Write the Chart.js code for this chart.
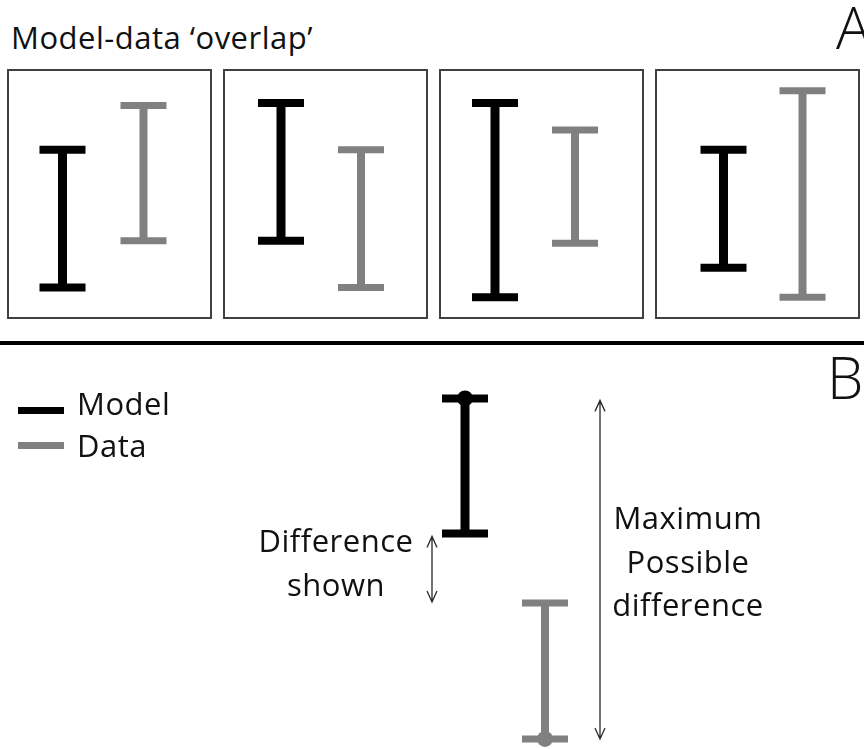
<!DOCTYPE html>
<html>
<head>
<meta charset="utf-8">
<script src="https://cdn.jsdelivr.net/npm/chart.js@4"></script>
<style>
  body { margin: 0; width: 864px; height: 749px; background: #fff; overflow: hidden; position: relative;
         font-family: "Open Sans", Lato, sans-serif; color: #111; }
  .t { position: absolute; white-space: nowrap; line-height: 1; font-size: 31px; letter-spacing: 0.5px; }
  .big { font-size: 58px; font-weight: 300; letter-spacing: 0; }
  .box { position: absolute; top: 69px; width: 205px; height: 250px; border: 2px solid #404040; box-sizing: border-box; }
  .box canvas, #b { display: block; }
  #rule { position: absolute; left: 0; top: 341px; width: 864px; height: 4px; background: #000; }
  .sw { position: absolute; left: 18px; width: 46px; height: 7px; }
  .note { position: absolute; width: 220px; text-align: center; font-size: 31px; letter-spacing: 0.5px; }
</style>
</head>
<body>

<div class="t" style="left:11px; top:22px;">Model-data ‘overlap’</div>
<div class="t big" style="left:836px; top:-2px;">A</div>

<div class="box" style="left:7px;"><canvas id="a1" width="201" height="246"></canvas></div>
<div class="box" style="left:223px;"><canvas id="a2" width="201" height="246"></canvas></div>
<div class="box" style="left:439px;"><canvas id="a3" width="201" height="246"></canvas></div>
<div class="box" style="left:655px;"><canvas id="a4" width="201" height="246"></canvas></div>

<div id="rule"></div>

<canvas id="b" width="864" height="403" style="position:absolute; left:0; top:346px;"></canvas>

<div class="t big" style="left:827px; top:348px;">B</div>
<div class="sw" style="top:407px; background:#000;"></div>
<div class="t" style="left:77px; top:388px;">Model</div>
<div class="sw" style="top:442px; background:#808080;"></div>
<div class="t" style="left:77px; top:430px;">Data</div>

<div class="note" style="left:226px; top:518px; line-height:44px;">Difference<br>shown</div>
<div class="note" style="left:578px; top:496px; line-height:43.5px;">Maximum<br>Possible<br>difference</div>

<script>
// Panel A: four model/data comparisons (arbitrary units, 0-10 inside each box)
const panels = ['a1', 'a2', 'a3', 'a4'];
const series = ['Model', 'Data'];
const modelLow  = [1.2, 3.1, 0.8, 2.0];
const modelHigh = [6.8, 8.7, 8.7, 6.8];
const dataLow   = [3.1, 1.2, 3.0, 0.8];
const dataHigh  = [8.6, 6.8, 7.6, 9.2];

// Panel B: the worked example (arbitrary units, 0-20)
const bModel = [10.7, 17.4];   // low, high
const bData  = [0.5, 7.25];    // low, high

const modelColor = '#000000';
const dataColor = '#808080';

// left/right padding per box so the two bars sit where they do in the figure
const slotPad = [[13, 26], [16, 25], [14, 27], [27, 16]];

function errorBar(label, lo, hi, color, width, capWidth) {
    return {
        label: label,
        data: [{x: label, y: lo}, {x: label, y: hi}],
        borderColor: color,
        borderWidth: width,
        borderCapStyle: 'butt',
        pointStyle: 'line',
        pointRadius: 23,
        pointBorderWidth: capWidth,
        pointBorderColor: color,
        clip: false
    };
}

function opts(ymax, pad) {
    return {
        responsive: false,
        animation: false,
        events: [],
        layout: { autoPadding: false, padding: { left: pad[0], right: pad[1], top: 0, bottom: 0 } },
        scales: {
            x: { type: 'category', offset: true, display: false },
            y: { min: 0, max: ymax, display: false }
        },
        plugins: { legend: { display: false }, tooltip: { enabled: false } }
    };
}

panels.forEach((id, i) => {
    new Chart(document.getElementById(id), {
        type: 'line',
        data: {
            labels: series,
            datasets: [
                errorBar('Model', modelLow[i], modelHigh[i], modelColor, 9, 8),
                errorBar('Data', dataLow[i], dataHigh[i], dataColor, 8, 7)
            ]
        },
        options: opts(10, slotPad[i])
    });
});

// thin double-headed arrows in panel B
function drawArrow(ctx, x, y1, y2) {
    ctx.save();
    ctx.strokeStyle = '#2a2a2a';
    ctx.lineWidth = 1.3;
    ctx.beginPath();
    ctx.moveTo(x, y1);
    ctx.lineTo(x, y2);
    ctx.moveTo(x - 5, y1 + 11);
    ctx.lineTo(x, y1);
    ctx.lineTo(x + 5, y1 + 11);
    ctx.moveTo(x - 5, y2 - 11);
    ctx.lineTo(x, y2);
    ctx.lineTo(x + 5, y2 - 11);
    ctx.stroke();
    ctx.restore();
}

const arrows = {
    id: 'arrows',
    afterDatasetsDraw(chart) {
        const x = chart.scales.x, y = chart.scales.y;
        const xm = x.getPixelForValue(0), xd = x.getPixelForValue(1);
        drawArrow(chart.ctx, xm - 33, y.getPixelForValue(bModel[0]) + 3, y.getPixelForValue(bData[1]) - 1);
        drawArrow(chart.ctx, xd + 55, y.getPixelForValue(bModel[1]) + 2, y.getPixelForValue(bData[0]));
    }
};

new Chart(document.getElementById('b'), {
    type: 'line',
    data: {
        labels: series,
        datasets: [
            {
                label: 'Model end',
                data: [{x: 'Model', y: bModel[1]}],
                pointStyle: 'circle', pointRadius: 8, pointBorderWidth: 0,
                pointBackgroundColor: modelColor, showLine: false, clip: false
            },
            {
                label: 'Data end',
                data: [{x: 'Data', y: bData[0]}],
                pointStyle: 'circle', pointRadius: 8, pointBorderWidth: 0,
                pointBackgroundColor: dataColor, showLine: false, clip: false
            },
            errorBar('Model', bModel[0], bModel[1], modelColor, 9, 8),
            errorBar('Data', bData[0], bData[1], dataColor, 8, 7)
        ]
    },
    options: opts(20, [425, 279]),
    plugins: [arrows]
});
</script>
</body>
</html>
